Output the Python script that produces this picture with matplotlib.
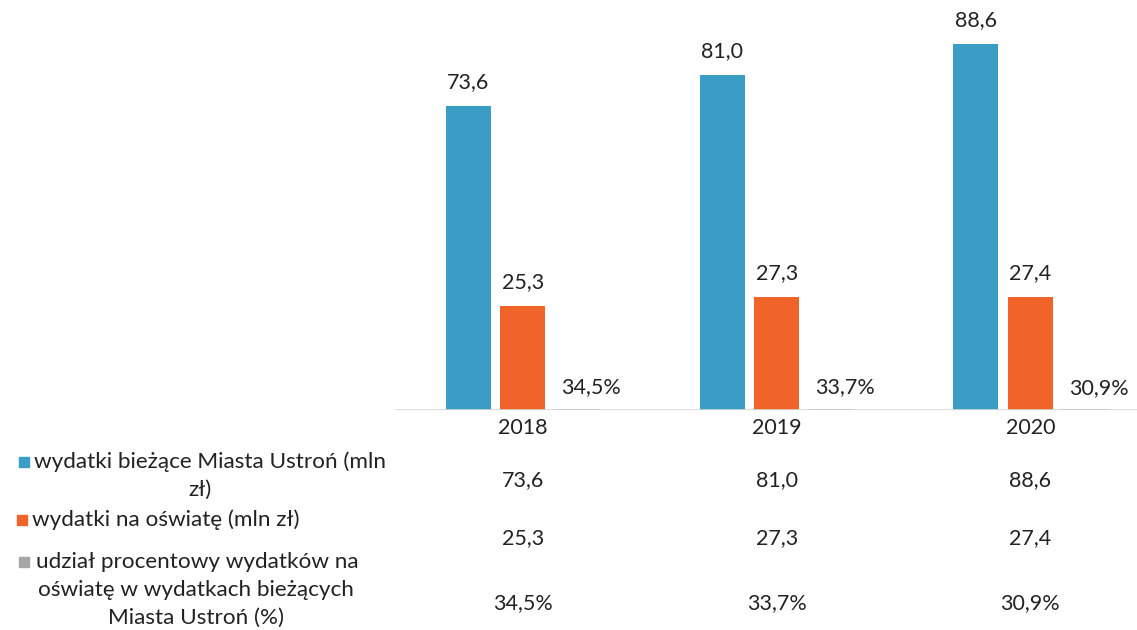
import matplotlib.pyplot as plt
from matplotlib.patches import Rectangle
from matplotlib.transforms import blended_transform_factory

# Data
years = ["2018", "2019", "2020"]
wydatki_biezace = [73.6, 81.0, 88.6]
wydatki_oswiata = [25.3, 27.3, 27.4]
udzial_proc = [34.5, 33.7, 30.9]
legend_first = [
    "wydatki bieżące Miasta Ustroń (mln",
    "wydatki na oświatę (mln zł)",
    "udział procentowy wydatków na",
]
legend_rest = [["zł)"], [], ["oświatę w wydatkach bieżących", "Miasta Ustroń (%)"]]

# Style
BLUE = "#3a9dc6"
ORANGE = "#f0642a"
GREY = "#a6a6a6"
TXT = "#222222"
FS = 15.5
FS_LEG = 16.2
plt.rcParams["font.family"] = ["Lato", "DejaVu Sans"]

W, H = 1137, 630
fig = plt.figure(figsize=(W / 100, H / 100), dpi=100)
fig.patch.set_facecolor("white")

# axes placed in pixel coords, baseline at y=410 from top
ax_left, ax_right = 396, 1137
base_y = 410
ymax = 96
px_per_unit = 4.13
ax_h = ymax * px_per_unit
ax = fig.add_axes([ax_left / W, (H - base_y) / H, (ax_right - ax_left) / W, ax_h / H])
ax.set_xlim(-0.5, 2.42)
ax.set_ylim(0, ymax)
ax.axis("off")

xs = list(range(len(years)))
bw = 0.178
off = 0.215

b1 = ax.bar([x - off for x in xs], wydatki_biezace, bw, color=BLUE)
b2 = ax.bar(xs, wydatki_oswiata, bw, color=ORANGE)
b3 = ax.bar([x + off for x in xs], [p / 100 for p in udzial_proc], bw, color=GREY)

def fmt(v):
    return f"{v:.1f}".replace(".", ",")

for rect, v in zip(b1, wydatki_biezace):
    ax.annotate(fmt(v), (rect.get_x() + rect.get_width() / 2, v), xytext=(0, 10),
                textcoords="offset points", ha="center", va="bottom",
                fontsize=FS, color=TXT)
for rect, v in zip(b2, wydatki_oswiata):
    ax.annotate(fmt(v), (rect.get_x() + rect.get_width() / 2, v), xytext=(0, 10),
                textcoords="offset points", ha="center", va="bottom",
                fontsize=FS, color=TXT)
for rect, v in zip(b3, udzial_proc):
    ax.annotate(fmt(v) + "%", (rect.get_x() + rect.get_width() / 2, v / 100),
                xytext=(10, 8), textcoords="offset points", ha="center",
                va="bottom", fontsize=FS, color=TXT)

# baseline
ax.axhline(0, xmin=0, xmax=1, color="#d4d4d4", lw=1.2)

# data table below the chart
tr = blended_transform_factory(ax.transData, fig.transFigure)

def fy(py):
    return 1 - py / H

for x, y in zip(xs, years):
    fig.text(x, fy(428), y, transform=tr, ha="center", va="center",
             fontsize=FS, color=TXT)

rows = [
    ([fmt(v) for v in wydatki_biezace], 480),
    ([fmt(v) for v in wydatki_oswiata], 538),
    ([fmt(v) + "%" for v in udzial_proc], 603),
]
for vals, py in rows:
    for x, s in zip(xs, vals):
        fig.text(x, fy(py), s, transform=tr, ha="center", va="center",
                 fontsize=FS, color=TXT)

# row headers with legend keys
# (square x, first line y, text start x, rest center x)
legend_pos = [
    (24, 462, 34, 200),
    (22, 520, 32, 200),
    (24, 562, 36, 196),
]
colors = [BLUE, ORANGE, GREY]
for i, (sx, y1, tx, rcx) in enumerate(legend_pos):
    fig.text(tx / W, fy(y1), legend_first[i], ha="left", va="center",
             fontsize=FS_LEG, color=TXT)
    for j, line in enumerate(legend_rest[i]):
        fig.text(rcx / W, fy(y1 + 28 * (j + 1)), line, ha="center", va="center",
                 fontsize=FS_LEG, color=TXT)
    s = 10
    fig.add_artist(Rectangle(((sx - s / 2) / W, fy(y1 + s / 2)), s / W, s / H,
                             transform=fig.transFigure, color=colors[i]))

fig.savefig("out.png", dpi=100, facecolor="white")
